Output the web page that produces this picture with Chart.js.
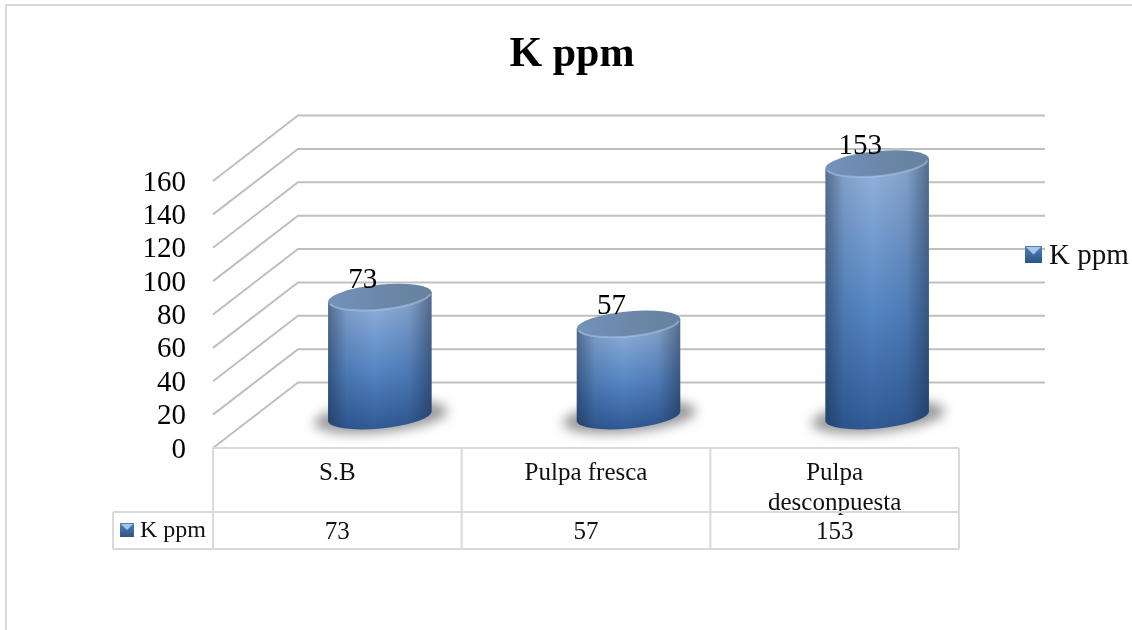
<!DOCTYPE html>
<html>
<head>
<meta charset="utf-8">
<title>K ppm</title>
<script src="https://cdn.jsdelivr.net/npm/chart.js@4"></script>
<style>
  html, body { margin: 0; padding: 0; background: #fff; }
  canvas { display: block; }
</style>
</head>
<body>
<canvas id="chartId" width="1132" height="630"></canvas>
<script>
// data
const seriesName = 'K ppm';
const categories = ['S.B', 'Pulpa fresca', ['Pulpa', 'desconpuesta']];
const kPpm = [73, 57, 153];
const yMax = 160;
const yStep = 20;

const serif = '"Liberation Serif", serif';
const lineGrey = '#bfbfbf';
const tableGrey = '#d9d9d9';

// 3d look of the walls and cylinders
const depthX = 85;
const depthY = -65.5;
const cylShiftX = 42.5;
const cylTopShift = -29;
const cylBaseShift = -32;
const tilt = -5.5 * Math.PI / 180;

function drawSwatch(ctx, x, y, size) {
  var g = ctx.createLinearGradient(x, y, x, y + size);
  g.addColorStop(0, '#4f81bd');
  g.addColorStop(1, '#2c5587');
  ctx.fillStyle = g;
  ctx.fillRect(x, y, size, size);
  // light triangle on top
  ctx.fillStyle = '#a9c6e8';
  ctx.beginPath();
  ctx.moveTo(x + 1, y + 1);
  ctx.lineTo(x + size - 1, y + 1);
  ctx.lineTo(x + size / 2, y + size * 0.5);
  ctx.closePath();
  ctx.fill();
}

function drawCylinder(ctx, bar) {
  var a = bar.width / 2;
  var b = 12.5;
  var cx = bar.x + cylShiftX;
  var top = bar.y + cylTopShift;
  var base = bar.base + cylBaseShift;
  var dx = Math.cos(tilt) * a;
  var dy = Math.sin(tilt) * a;

  // shadow on the floor
  ctx.save();
  ctx.filter = 'blur(6px)';
  ctx.fillStyle = 'rgba(70,70,70,0.55)';
  ctx.beginPath();
  ctx.ellipse(cx + 1, base + 1, a + 15, b + 3, tilt, 0, Math.PI * 2);
  ctx.fill();
  ctx.restore();

  // body
  ctx.beginPath();
  ctx.moveTo(cx - dx, top - dy);
  ctx.lineTo(cx - dx, base - dy);
  ctx.ellipse(cx, base, a, b, tilt, Math.PI, 0, true);
  ctx.lineTo(cx + dx, top + dy);
  ctx.closePath();
  var v = ctx.createLinearGradient(0, top, 0, base + b);
  v.addColorStop(0, '#94b3dc');
  v.addColorStop(0.55, '#5586c4');
  v.addColorStop(1, '#2f5a96');
  ctx.fillStyle = v;
  ctx.fill();
  var h = ctx.createLinearGradient(cx - a, 0, cx + a, 0);
  h.addColorStop(0, 'rgba(25,40,65,0.5)');
  h.addColorStop(0.18, 'rgba(25,40,65,0.12)');
  h.addColorStop(0.45, 'rgba(25,40,65,0)');
  h.addColorStop(0.78, 'rgba(25,40,65,0.12)');
  h.addColorStop(1, 'rgba(20,35,60,0.5)');
  ctx.fillStyle = h;
  ctx.fill();

  // cap
  var c = ctx.createLinearGradient(cx - a, top, cx + a, top);
  c.addColorStop(0, '#7393bb');
  c.addColorStop(0.5, '#6c87a9');
  c.addColorStop(1, '#66829f');
  ctx.fillStyle = c;
  ctx.beginPath();
  ctx.ellipse(cx, top, a, b, tilt, 0, Math.PI * 2);
  ctx.fill();
  // light rim
  ctx.strokeStyle = 'rgba(175,205,240,0.5)';
  ctx.lineWidth = 2;
  ctx.beginPath();
  ctx.ellipse(cx, top, a - 1, b, tilt, Math.PI * 0.95, Math.PI * 0.05, true);
  ctx.stroke();
}

// frame, walls behind the bars
const wallsPlugin = {
  id: 'walls',
  beforeDatasetsDraw(chart) {
    var ctx = chart.ctx;
    var y = chart.scales.y;
    var left = chart.chartArea.left;
    var wallRight = 1045;
    ctx.save();
    ctx.strokeStyle = tableGrey;
    ctx.lineWidth = 2;
    ctx.strokeRect(6, 5, 1140, 640);
    ctx.strokeStyle = lineGrey;
    ctx.lineWidth = 2;
    y.ticks.forEach(function (t) {
      var py = y.getPixelForValue(t.value);
      ctx.beginPath();
      ctx.moveTo(left, py);
      ctx.lineTo(left + depthX, py + depthY);
      ctx.lineTo(wallRight, py + depthY);
      ctx.stroke();
    });
    ctx.restore();
  }
};

// cylinders, value labels, data table and legend
const cylinderPlugin = {
  id: 'cylinders',
  afterDatasetsDraw(chart) {
    var ctx = chart.ctx;
    var bars = chart.getDatasetMeta(0).data;
    var area = chart.chartArea;
    var x = chart.scales.x;
    ctx.save();
    bars.forEach(function (bar) { drawCylinder(ctx, bar); });

    ctx.fillStyle = '#000';
    ctx.font = '29px ' + serif;
    ctx.textAlign = 'center';
    ctx.textBaseline = 'middle';
    bars.forEach(function (bar, i) {
      ctx.fillText(kPpm[i], bar.x + cylShiftX - 17, bar.y + cylTopShift - 17);
    });

    // table lines
    var rowY = 512;
    var bottomY = 549;
    var cellLeft = 113;
    ctx.strokeStyle = tableGrey;
    ctx.lineWidth = 2;
    ctx.beginPath();
    ctx.moveTo(area.left, area.bottom);
    ctx.lineTo(area.right, area.bottom);
    ctx.moveTo(cellLeft, rowY);
    ctx.lineTo(area.right, rowY);
    ctx.moveTo(cellLeft, bottomY);
    ctx.lineTo(area.right, bottomY);
    ctx.moveTo(cellLeft, rowY);
    ctx.lineTo(cellLeft, bottomY);
    var step = (area.right - area.left) / categories.length;
    for (var i = 0; i <= categories.length; i++) {
      ctx.moveTo(area.left + step * i, area.bottom);
      ctx.lineTo(area.left + step * i, bottomY);
    }
    ctx.stroke();

    // table values
    ctx.fillStyle = '#111';
    ctx.font = '25px ' + serif;
    kPpm.forEach(function (v, i) {
      ctx.fillText(v, x.getPixelForValue(i), 532);
    });
    ctx.textAlign = 'left';
    ctx.font = '24px ' + serif;
    ctx.fillText(seriesName, 140, 531);
    drawSwatch(ctx, 120, 523, 14);

    // legend
    ctx.fillStyle = '#111';
    ctx.font = '29px ' + serif;
    ctx.fillText(seriesName, 1049, 256);
    drawSwatch(ctx, 1025, 246, 17);
    ctx.restore();
  }
};

const chartEl = document.getElementById('chartId').getContext('2d');
const myChart = new Chart(chartEl, {
  type: 'bar',
  data: {
    labels: categories,
    datasets: [
      {
        label: seriesName,
        data: kPpm,
        backgroundColor: 'transparent',
        categoryPercentage: 1,
        barPercentage: 0.418
      }
    ]
  },
  options: {
    responsive: false,
    animation: false,
    layout: { padding: { left: 12, right: 0, top: 0, bottom: 0 } },
    plugins: {
      legend: { display: false },
      tooltip: { enabled: false },
      title: {
        display: true,
        text: seriesName,
        color: '#000',
        font: { family: serif, size: 42, weight: 'bold', lineHeight: 1.2 },
        padding: { top: 30, bottom: 100.6 }
      }
    },
    scales: {
      x: {
        grid: { display: false, drawTicks: false },
        border: { display: false },
        ticks: {
          color: '#111',
          font: { family: serif, size: 25, lineHeight: 1.2 },
          padding: 10,
          maxRotation: 0,
          autoSkip: false
        },
        afterFit(scale) { scale.height = 182; }
      },
      y: {
        min: 0,
        max: yMax,
        grid: { display: false, drawTicks: false },
        border: { display: false },
        ticks: {
          stepSize: yStep,
          autoSkip: false,
          color: '#000',
          font: { family: serif, size: 29 },
          padding: 27,
          labelOffset: 2
        },
        afterFit(scale) { scale.width = 201; }
      },
      // empty axis, keeps room for the wall depth and the legend on the right
      rightGap: {
        axis: 'y',
        position: 'right',
        grid: { display: false, drawTicks: false },
        border: { display: false },
        ticks: { display: false },
        afterFit(scale) { scale.width = 173; }
      }
    }
  },
  plugins: [wallsPlugin, cylinderPlugin]
});
</script>
</body>
</html>
